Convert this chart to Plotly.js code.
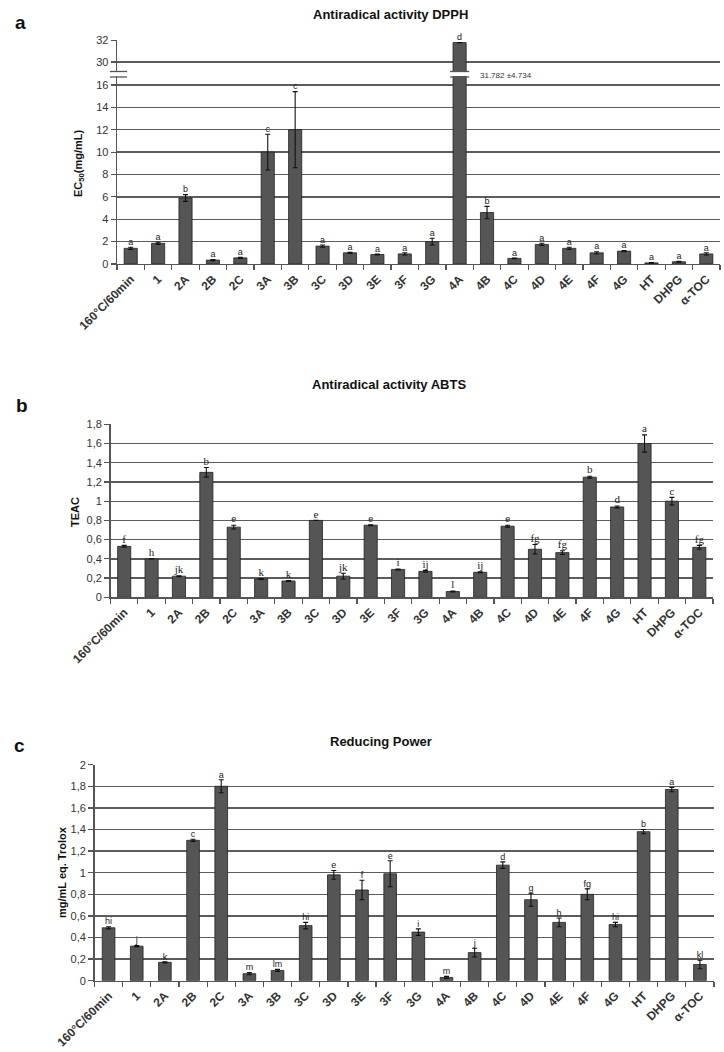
<!DOCTYPE html>
<html>
<head>
<meta charset="utf-8">
<script src="https://cdn.plot.ly/plotly-3.0.1.min.js"></script>
<style>html,body{margin:0;padding:0;background:#fff;}#chart{width:724px;height:1052px;}</style>
</head>
<body>
<div id="chart"></div>
<script>
// ---- data ----
var categories = ['160°C/60min','1','2A','2B','2C','3A','3B','3C','3D','3E','3F','3G','4A','4B','4C','4D','4E','4F','4G','HT','DHPG','α-TOC'];

var dpphValues = [1.4,1.85,5.9,0.35,0.55,10.0,12.0,1.6,1.0,0.85,0.9,2.0,31.782,4.6,0.5,1.75,1.4,1.0,1.15,0.1,0.2,0.9];
var dpphErrors = [0.1,0.1,0.3,0.05,0.05,1.6,3.4,0.1,0.05,0.05,0.1,0.3,4.734,0.55,0.03,0.1,0.1,0.1,0.05,0.02,0.05,0.1];
var dpphLetters = ['a','a','b','a','a','c','c','a','a','a','a','a','d','b','a','a','a','a','a','a','a','a'];

var abtsValues = [0.53,0.40,0.22,1.30,0.73,0.19,0.17,0.80,0.22,0.75,0.29,0.27,0.06,0.26,0.74,0.50,0.465,1.25,0.94,1.60,1.00,0.52];
var abtsErrors = [0.01,0,0.005,0.05,0.02,0.005,0.005,0,0.03,0.005,0.005,0.01,0.005,0.005,0.01,0.05,0.02,0.01,0.01,0.09,0.04,0.02];
var abtsLetters = ['f','h','jk','b','e','k','k','e','jk','e','i','ij','l','ij','e','fg','fg','b','d','a','c','fg'];

var rpValues = [0.49,0.32,0.17,1.30,1.80,0.065,0.095,0.51,0.98,0.84,0.99,0.45,0.03,0.26,1.07,0.75,0.54,0.80,0.52,1.38,1.77,0.15];
var rpErrors = [0.01,0.005,0.005,0.01,0.06,0.01,0.01,0.03,0.04,0.09,0.12,0.03,0.01,0.04,0.03,0.06,0.04,0.05,0.02,0.02,0.02,0.04];
var rpLetters = ['hi','j','k','c','a','m','lm','hi','e','f','e','i','m','j','d','g','h','fg','hi','b','a','kl'];

var dpphLowerTop = 16.8;   // axis break
var dpphUpperRange = [29.09, 32.02];

// ---- helpers ----
var idx = categories.map(function(c,i){ return i; });
var barColor = '#555555';
var gridColor = '#5c5c5c';
var SANS = 'Liberation Sans, Arial, sans-serif';
var SERIF = 'Liberation Serif, Times New Roman, serif';

function barTrace(y, err, xa, ya, w) {
  return {type:'bar', x:idx, y:y, xaxis:xa, yaxis:ya, width:w,
    marker:{color:barColor, line:{color:'#222', width:0.8}},
    error_y:{type:'data', array:err, visible:true, color:'#111', thickness:1.1, width:2.5},
    hoverinfo:'skip', showlegend:false};
}
function letterTrace(yv, letters, xa, ya, family, size) {
  return {type:'scatter', mode:'text', x:idx, y:yv, text:letters, xaxis:xa, yaxis:ya,
    textposition:'top center', textfont:{family:family, size:size, color:'#222'},
    cliponaxis:false, hoverinfo:'skip', showlegend:false};
}

var dpphErrLower = dpphErrors.map(function(e,i){ return dpphValues[i] > dpphLowerTop ? 0 : e; });
var dpphLetterLowerY = dpphValues.map(function(v,i){ return v > dpphLowerTop ? null : v + dpphErrors[i]; });
var dpphLetterUpperY = dpphValues.map(function(v){ return v > dpphLowerTop ? v : null; });
var dpphErrUpper = dpphValues.map(function(){ return 0; });

var traces = [
  barTrace(dpphValues, dpphErrLower, 'x', 'y', 0.48),
  barTrace(dpphValues, dpphErrUpper, 'x', 'y2', 0.48),
  letterTrace(dpphLetterLowerY, dpphLetters, 'x', 'y', SANS, 9),
  letterTrace(dpphLetterUpperY, dpphLetters, 'x', 'y2', SANS, 9),
  barTrace(abtsValues, abtsErrors, 'x2', 'y3', 0.48),
  letterTrace(abtsValues.map(function(v,i){return v+abtsErrors[i];}), abtsLetters, 'x2', 'y3', SERIF, 11),
  barTrace(rpValues, rpErrors, 'x3', 'y4', 0.45),
  letterTrace(rpValues.map(function(v,i){return v+rpErrors[i];}), rpLetters, 'x3', 'y4', SANS, 9)
];

function py(px){ return 1 - px/1052; }
function pxx(px){ return px/724; }

function xAxis(dom, anchor) {
  return {domain:dom, anchor:anchor, type:'linear', range:[-0.5, categories.length-0.5],
    tickmode:'array', tickvals:idx, ticktext:categories.map(function(c){return '<b>'+c+'</b>';}),
    tickangle:-45, ticks:'', ticklabelstandoff:2,
    tickfont:{family:SANS, size:12, color:'#333'},
    minor:{tickmode:'linear', tick0:0.5, dtick:1, ticks:'outside', ticklen:5, tickcolor:'#555', tickwidth:1.2, showgrid:false},
    showline:true, linecolor:'#555', linewidth:1.4, showgrid:false, zeroline:false, fixedrange:true};
}
function yAxis(dom, anchor, range, extra) {
  var o = {domain:dom, anchor:anchor, range:range, ticks:'outside', ticklen:5, tickcolor:'#555', tickwidth:1.2,
    showline:true, linecolor:'#555', linewidth:1.4, showgrid:true, gridcolor:gridColor, gridwidth:1.3,
    zeroline:false, tickfont:{family:SANS, size:11, color:'#333'}, fixedrange:true};
  for (var k in extra) o[k] = extra[k];
  return o;
}

function titleFont(){ return {family:SANS, size:13, color:'#111', weight:'bold'}; }
function letterFont(){ return {family:SANS, size:19, color:'#111', weight:'bold'}; }
function axTitleFont(){ return {family:SANS, size:11, color:'#111', weight:'bold'}; }

function ann(text, x, y, font, extra) {
  var o = {text:text, xref:'paper', yref:'paper', x:pxx(x), y:py(y), showarrow:false, font:font,
    xanchor:'center', yanchor:'middle'};
  for (var k in extra) o[k] = extra[k];
  return o;
}

var annotations = [
  ann('a', 20, 22, letterFont()),
  ann('Antiradical activity DPPH', 390, 15, titleFont()),
  ann('EC<sub>50</sub>(mg/mL)', 79, 163, axTitleFont(), {textangle:-90}),
  ann(dpphValues[12].toFixed(3) + ' ±' + dpphErrors[12].toFixed(3), 478, 75, {family:SANS, size:8, color:'#333'}, {xanchor:'left'}),
  ann('b', 22, 405, letterFont()),
  ann('Antiradical activity ABTS', 389, 384, titleFont()),
  ann('TEAC', 75, 512, axTitleFont(), {textangle:-90}),
  ann('c', 19, 745, letterFont()),
  ann('Reducing Power', 381, 741, titleFont()),
  ann('mg/mL eq. Trolox', 62, 872, axTitleFont(), {textangle:-90})
];

var layout = {
  width:724, height:1052, margin:{l:0,r:0,t:0,b:0},
  paper_bgcolor:'#fff', plot_bgcolor:'#fff', separators:',.', showlegend:false,
  xaxis: xAxis([pxx(117), pxx(720)], 'y'),
  yaxis: yAxis([py(264), py(76)], 'x', [0, dpphLowerTop], {tickvals:[0,2,4,6,8,10,12,14,16]}),
  yaxis2: yAxis([py(72), py(40)], 'x', dpphUpperRange, {tickvals:[30,32]}),
  xaxis2: xAxis([pxx(110.5), pxx(713)], 'y3'),
  yaxis3: yAxis([py(597.3), py(424.3)], 'x2', [0,1.8], {dtick:0.2, tickformat:'.1~f'}),
  xaxis3: xAxis([pxx(94.5), pxx(714)], 'y4'),
  yaxis4: yAxis([py(980.7), py(764.7)], 'x3', [0,2], {dtick:0.2, tickformat:'.1~f'}),
  annotations: annotations,
  shapes: [
    {type:'line', xref:'paper', yref:'paper', x0:pxx(110), x1:pxx(127), y0:py(71.5), y1:py(71.5), line:{color:'#555', width:1.3}},
    {type:'line', xref:'paper', yref:'paper', x0:pxx(110), x1:pxx(127), y0:py(77), y1:py(77), line:{color:'#555', width:1.3}},
    {type:'line', xref:'x', yref:'paper', x0:11.65, x1:12.35, y0:py(71.5), y1:py(71.5), line:{color:'#555', width:1.3}},
    {type:'line', xref:'x', yref:'paper', x0:11.65, x1:12.35, y0:py(77), y1:py(77), line:{color:'#555', width:1.3}}
  ]
};

Plotly.newPlot('chart', traces, layout, {staticPlot:true, displayModeBar:false});
</script>
</body>
</html>
